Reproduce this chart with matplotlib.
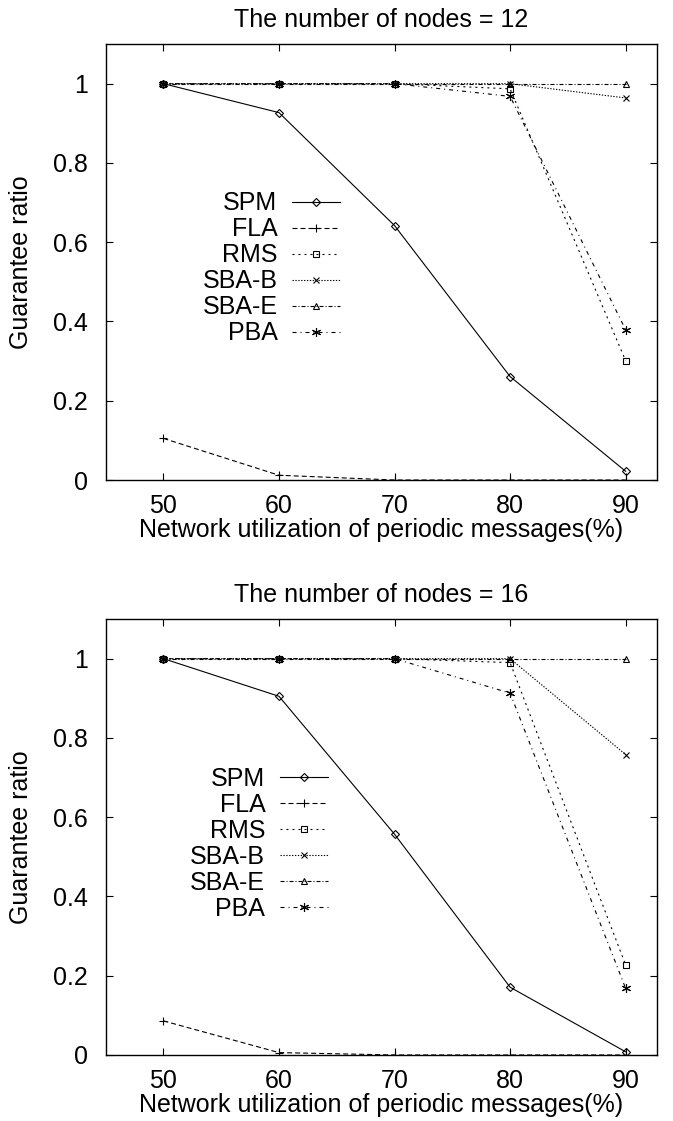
import matplotlib
matplotlib.use("Agg")
import matplotlib.pyplot as plt
import numpy as np

plt.rcParams['font.family'] = ['Liberation Sans', 'DejaVu Sans']

utilization = [50, 60, 70, 80, 90]
labels = ["SPM", "FLA", "RMS", "SBA-B", "SBA-E", "PBA"]

# nodes = 12
spm12 = [1.0, 0.927, 0.642, 0.261, 0.022]
fla12 = [0.105, 0.012, 0.0, 0.0, 0.0]
rms12 = [1.0, 1.0, 1.0, 0.987, 0.301]
sbab12 = [1.0, 1.0, 1.0, 1.0, 0.964]
sbae12 = [1.0, 1.0, 1.0, 1.0, 1.0]
pba12 = [1.0, 1.0, 1.0, 0.968, 0.379]

# nodes = 16
spm16 = [1.0, 0.905, 0.557, 0.171, 0.008]
fla16 = [0.086, 0.006, 0.0, 0.0, 0.0]
rms16 = [1.0, 1.0, 1.0, 0.99, 0.227]
sbab16 = [1.0, 1.0, 1.0, 1.0, 0.758]
sbae16 = [1.0, 1.0, 1.0, 1.0, 1.0]
pba16 = [1.0, 1.0, 1.0, 0.913, 0.168]

yticks = [0, 0.2, 0.4, 0.6, 0.8, 1.0]
yticklabels = ["0", "0.2", "0.4", "0.6", "0.8", "1"]

styles = [
    dict(marker='D', ms=4.0, ls='-'),
    dict(marker='+', ms=6.0, dashes=(4.5, 2.7)),
    dict(marker='s', ms=5.0, dashes=(1.8, 3.6)),
    dict(marker='x', ms=5.0, dashes=(1.2, 1.4)),
    dict(marker='^', ms=5.0, dashes=(3.6, 1.8, 0.9, 1.8)),
    dict(marker=(6, 2, 0), ms=6.5, dashes=(3.6, 3.6, 0.9, 3.6)),
]

FS = 18


def drawPanel(ax, series, nodes, legendAnchor):
    for values, name, st in zip(series, labels, styles):
        ax.plot(utilization, values, color='k', lw=0.8, mfc='none', mec='k',
                mew=0.8, label=name, **st)
    ax.set_xlim(45, 92.7)
    ax.set_ylim(0, 1.1)
    ax.set_xticks(utilization)
    ax.set_yticks(yticks)
    ax.set_yticklabels(yticklabels)
    ax.tick_params(direction='in', length=5, width=0.8, top=True, right=True,
                   labelsize=FS)
    ax.tick_params(axis='x', pad=10)
    ax.tick_params(axis='y', pad=13)
    for s in ax.spines.values():
        s.set_linewidth(1.0)
    ax.set_title("The number of nodes = %d" % nodes, fontsize=FS, pad=12)
    ax.set_xlabel("Network utilization of periodic messages(%)", fontsize=FS, labelpad=0)
    ax.set_ylabel("Guarantee ratio", fontsize=FS, labelpad=14)
    ax.legend(loc='upper right', bbox_to_anchor=legendAnchor, frameon=False,
              markerfirst=False, fontsize=FS, handlelength=1.9, handletextpad=0.6,
              labelspacing=0.08, borderpad=0, borderaxespad=0)


fig = plt.figure(figsize=(6.73, 11.21), dpi=100)
axTop = fig.add_axes([0.157, 0.5718, 0.819, 0.3889])
axBot = fig.add_axes([0.157, 0.0589, 0.819, 0.3889])

drawPanel(axTop, [spm12, fla12, rms12, sbab12, sbae12, pba12], 12, (0.425, 0.662))
drawPanel(axBot, [spm16, fla16, rms16, sbab16, sbae16, pba16], 16, (0.403, 0.660))

fig.savefig("out.png", dpi=100)
